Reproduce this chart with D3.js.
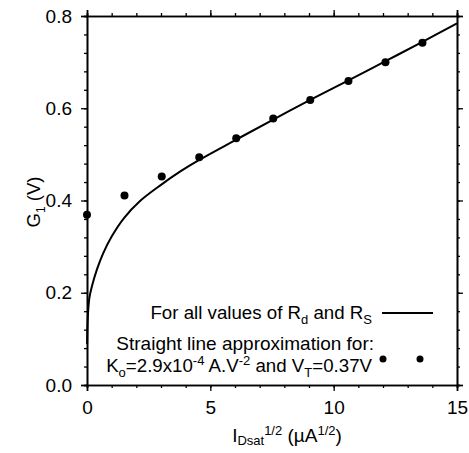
<!DOCTYPE html>
<html>
<head>
<meta charset="utf-8">
<script src="https://cdn.jsdelivr.net/npm/d3@7"></script>
<style>
html,body{margin:0;padding:0;background:#fff;}
text{font-family:"Liberation Sans",Arial,sans-serif;fill:#000;}
</style>
</head>
<body>
<svg id="chart" width="469" height="453"></svg>
<script>
// Data
const pointX = [0, 1.52, 3.03, 4.55, 6.05, 7.55, 9.05, 10.6, 12.1, 13.6];
const pointY = [0.369, 0.411, 0.452, 0.494, 0.535, 0.578, 0.618, 0.659, 0.700, 0.742];
const curveX = [0.003, 0.02, 0.05, 0.1, 0.2, 0.4, 0.65, 1.0, 1.5, 2.15, 3.0, 3.8, 4.55, 6.05, 7.55, 9.05, 10.6, 12.1, 13.6, 15];
const curveY = [0.089, 0.13, 0.163, 0.19, 0.214, 0.25, 0.285, 0.322, 0.362, 0.399, 0.434, 0.4635, 0.488, 0.532, 0.5756, 0.618, 0.6605, 0.702, 0.744, 0.784];
const xTicks = [0, 5, 10, 15];
const yTicks = [0.0, 0.2, 0.4, 0.6, 0.8];
const xMinor = d3.range(0, 16, 1);
const yMinor = d3.range(0, 0.8001, 0.04);

const svg = d3.select("#chart");
const x = d3.scaleLinear().domain([0, 15]).range([87, 457]);
const y = d3.scaleLinear().domain([0, 0.8]).range([385, 16]);

function styleAxis(g){
  g.selectAll("path.domain").attr("stroke","#000").attr("stroke-width",1.6);
  g.selectAll(".tick line").attr("stroke","#000").attr("stroke-width",1.3);
  g.selectAll("text").attr("font-size","19px").attr("font-family","Liberation Sans, Arial, sans-serif").attr("fill","#000");
}

// minor ticks
svg.append("g").attr("transform","translate(0,385)")
  .call(d3.axisBottom(x).tickValues(xMinor).tickSize(3).tickFormat("")).call(styleAxis);
svg.append("g").attr("transform","translate(0,16)")
  .call(d3.axisTop(x).tickValues(xMinor).tickSize(3).tickFormat("")).call(styleAxis);
svg.append("g").attr("transform","translate(87,0)")
  .call(d3.axisLeft(y).tickValues(yMinor).tickSize(3).tickFormat("")).call(styleAxis);
svg.append("g").attr("transform","translate(457,0)")
  .call(d3.axisRight(y).tickValues(yMinor).tickSize(3).tickFormat("")).call(styleAxis);

// major ticks
svg.append("g").attr("transform","translate(0,385)")
  .call(d3.axisBottom(x).tickValues(xTicks).tickSize(6).tickPadding(10).tickFormat(d3.format("d"))).call(styleAxis);
svg.append("g").attr("transform","translate(0,16)")
  .call(d3.axisTop(x).tickValues(xTicks).tickSize(6).tickFormat("")).call(styleAxis);
svg.append("g").attr("transform","translate(87,0)")
  .call(d3.axisLeft(y).tickValues(yTicks).tickSize(6).tickPadding(9).tickFormat(d3.format(".1f"))).call(styleAxis);
svg.append("g").attr("transform","translate(457,0)")
  .call(d3.axisRight(y).tickValues(yTicks).tickSize(6).tickFormat("")).call(styleAxis);

// curve
const line = d3.line().x(d => x(d[0])).y(d => y(d[1])).curve(d3.curveCatmullRom.alpha(0.5));
svg.append("path").datum(curveX.map((v,i)=>[v,curveY[i]]))
  .attr("d", line).attr("fill","none").attr("stroke","#000").attr("stroke-width",2);

// points
svg.append("g").selectAll("circle").data(pointX.map((v,i)=>[v,pointY[i]])).join("circle")
  .attr("cx", d=>x(d[0])).attr("cy", d=>y(d[1])).attr("r", 4).attr("fill","#000");

// axis labels
const yl = svg.append("text").attr("transform","translate(40,202) rotate(-90)")
  .attr("text-anchor","middle").attr("font-size","18.5px");
yl.append("tspan").text("G");
yl.append("tspan").attr("font-size","12px").attr("dy","5").text("1");
yl.append("tspan").attr("dy","-5").text(" (V)");

const xl = svg.append("text").attr("x", 287).attr("y", 442).attr("text-anchor","middle").attr("font-size","19px");
xl.append("tspan").text("I");
xl.append("tspan").attr("font-size","13px").attr("dy","3").text("Dsat");
xl.append("tspan").attr("font-size","13px").attr("dy","-10").text("1/2");
xl.append("tspan").attr("dy","7").text(" (\u00b5A");
xl.append("tspan").attr("font-size","13px").attr("dy","-7").text("1/2");
xl.append("tspan").attr("dy","7").text(")");

// legend
const l1 = svg.append("text").attr("x",372).attr("y",319).attr("text-anchor","end").attr("font-size","18.7px");
l1.append("tspan").text("For all values of R");
l1.append("tspan").attr("font-size","13px").attr("dy","5").text("d");
l1.append("tspan").attr("dy","-5").text(" and R");
l1.append("tspan").attr("font-size","13px").attr("dy","5").text("S");
svg.append("line").attr("x1",382).attr("x2",433).attr("y1",313).attr("y2",313).attr("stroke","#000").attr("stroke-width",2);

svg.append("text").attr("x",374).attr("y",350).attr("text-anchor","end").attr("font-size","19px")
  .text("Straight line approximation for:");
const l3 = svg.append("text").attr("x",372).attr("y",372).attr("text-anchor","end").attr("font-size","18.7px");
l3.append("tspan").text("K");
l3.append("tspan").attr("font-size","13px").attr("dy","5").text("o");
l3.append("tspan").attr("dy","-5").text("=2.9x10");
l3.append("tspan").attr("font-size","13px").attr("dy","-7").text("-4");
l3.append("tspan").attr("dy","7").text(" A.V");
l3.append("tspan").attr("font-size","13px").attr("dy","-7").text("-2");
l3.append("tspan").attr("dy","7").text(" and V");
l3.append("tspan").attr("font-size","13px").attr("dy","5").text("T");
l3.append("tspan").attr("dy","-5").text("=0.37V");
svg.append("g").selectAll("circle.lg").data([383, 420]).join("circle")
  .attr("cx", d=>d).attr("cy", 359).attr("r", 3.5).attr("fill","#000");
</script>
</body>
</html>
